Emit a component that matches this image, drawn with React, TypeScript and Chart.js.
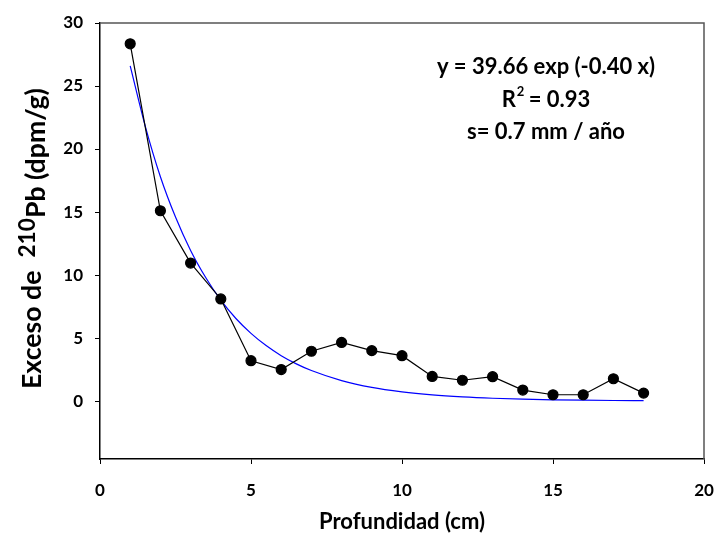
import React, { useEffect, useRef } from "react";
import { Chart, registerables } from "chart.js";

Chart.register(...registerables);

const depths = [1, 2, 3, 4, 5, 6, 7, 8, 9, 10, 11, 12, 13, 14, 15, 16, 17, 18];
const excessPb = [28.35, 15.1, 10.95, 8.1, 3.2, 2.5, 3.95, 4.65, 4.0, 3.6, 1.95, 1.65, 1.93, 0.87, 0.5, 0.5, 1.77, 0.63];

const fitX = [1, 1.5, 2, 2.5, 3, 3.5, 4, 4.5, 5, 5.5, 6, 6.5, 7, 8, 9, 10, 11, 12, 13, 14, 15, 16, 17, 18];
const fitY = [26.6, 21.8, 17.8, 14.6, 11.95, 9.8, 8.0, 6.55, 5.37, 4.4, 3.6, 2.95, 2.42, 1.62, 1.08, 0.73, 0.49, 0.33, 0.22, 0.147, 0.098, 0.066, 0.044, 0.03];

const xTicks = [0, 5, 10, 15, 20];
const yTicks = [0, 5, 10, 15, 20, 25, 30];

const annotationLines = ["y = 39.66 exp (-0.40 x)", "R", " = 0.93", "s= 0.7 mm / año"];
const xTitle = "Profundidad (cm)";
const yTitleParts = ["Exceso de  ", "210", "Pb (dpm/g)"];

const FONT = "Lato, 'Open Sans', sans-serif";

const overlay = {
  id: "overlay",
  afterDraw(chart: any) {
    const ctx = chart.ctx;
    const a = chart.chartArea;
    ctx.save();
    // top and right frame
    ctx.strokeStyle = "#555555";
    ctx.lineWidth = 1.5;
    ctx.beginPath();
    ctx.moveTo(a.left, a.top);
    ctx.lineTo(a.right, a.top);
    ctx.lineTo(a.right, a.bottom);
    ctx.stroke();

    // annotation
    ctx.fillStyle = "#000";
    ctx.textAlign = "center";
    ctx.textBaseline = "middle";
    const AF = 22;
    ctx.font = `bold ${AF}px ${FONT}`;
    const cx = 546;
    ctx.fillText(annotationLines[0], cx, 67);
    const r = annotationLines[1];
    const rest = annotationLines[2];
    const wR = ctx.measureText(r).width;
    const wRest = ctx.measureText(rest).width;
    ctx.font = `bold 13px ${FONT}`;
    const w2 = ctx.measureText("2").width;
    const total = wR + w2 + wRest;
    const x0 = cx - total / 2;
    ctx.textAlign = "left";
    ctx.font = `bold ${AF}px ${FONT}`;
    ctx.fillText(r, x0, 100);
    ctx.font = `bold 13px ${FONT}`;
    ctx.fillText("2", x0 + wR + 1, 92);
    ctx.font = `bold ${AF}px ${FONT}`;
    ctx.fillText(rest, x0 + wR + w2, 100);
    ctx.textAlign = "center";
    ctx.fillText(annotationLines[3], cx, 132);

    // x title
    ctx.font = `bold 22px ${FONT}`;
    ctx.fillText(xTitle, 402, 522);

    // y title (rotated)
    const start = 389;
    const end = 88;
    const supScale = 0.85;
    const measure = (fs: number) => {
      ctx.font = `bold ${fs}px ${FONT}`;
      const w0 = ctx.measureText(yTitleParts[0]).width;
      const w2b = ctx.measureText(yTitleParts[2]).width;
      ctx.font = `bold ${fs * supScale}px ${FONT}`;
      const w1 = ctx.measureText(yTitleParts[1]).width;
      return [w0, w1, w2b];
    };
    let fs = 24;
    let ws = measure(fs);
    fs = (fs * (start - end)) / (ws[0] + ws[1] + ws[2]);
    ws = measure(fs);
    ctx.textAlign = "left";
    ctx.textBaseline = "alphabetic";
    ctx.translate(41, 0);
    ctx.rotate(-Math.PI / 2);
    const s = -start;
    ctx.font = `bold ${fs}px ${FONT}`;
    ctx.fillText(yTitleParts[0], s, 0);
    ctx.font = `bold ${fs * supScale}px ${FONT}`;
    ctx.fillText(yTitleParts[1], s + ws[0], -6);
    ctx.font = `bold ${fs}px ${FONT}`;
    ctx.fillText(yTitleParts[2], s + ws[0] + ws[1], 4);
    ctx.restore();
  },
};

export default function App() {
  const ref = useRef<HTMLCanvasElement | null>(null);
  useEffect(() => {
    document.body.style.margin = "0";
    const canvas = ref.current!;
    const chart = new Chart(canvas, {
      type: "scatter",
      data: {
        datasets: [
          {
            label: "fit",
            data: fitX.map((x, i) => ({ x, y: fitY[i] })),
            showLine: true,
            borderColor: "#0000ff",
            borderWidth: 1.2,
            pointRadius: 0,
            cubicInterpolationMode: "monotone",
            order: 2,
          },
          {
            label: "data",
            data: depths.map((x, i) => ({ x, y: excessPb[i] })),
            showLine: true,
            borderColor: "#000",
            borderWidth: 1.2,
            backgroundColor: "#000",
            pointBackgroundColor: "#000",
            pointBorderColor: "#000",
            pointRadius: 5,
            order: 1,
          },
        ],
      },
      options: {
        animation: false,
        responsive: false,
        layout: { padding: { top: 23, right: 14, left: 0, bottom: 0 } },
        plugins: { legend: { display: false }, tooltip: { enabled: false } },
        scales: {
          x: {
            type: "linear",
            min: 0,
            max: 20,
            afterBuildTicks: (axis: any) => {
              axis.ticks = xTicks.map((v) => ({ value: v }));
            },
            afterFit: (axis: any) => {
              axis.height = 82;
              axis.paddingLeft = 0;
              axis.paddingRight = 0;
            },
            grid: { display: true, drawOnChartArea: false, tickLength: 5, color: "#000", lineWidth: 1 },
            border: { color: "#000", width: 1.5 },
            ticks: { color: "#000", font: { family: FONT, size: 17, weight: "bold" }, padding: 16, maxRotation: 0 },
          },
          y: {
            type: "linear",
            min: -4.6,
            max: 30,
            afterBuildTicks: (axis: any) => {
              axis.ticks = yTicks.map((v) => ({ value: v }));
            },
            afterFit: (axis: any) => {
              axis.width = 100;
              axis.paddingTop = 0;
              axis.paddingBottom = 0;
            },
            grid: { display: true, drawOnChartArea: false, tickLength: 5, color: "#000", lineWidth: 1 },
            border: { color: "#000", width: 1.5 },
            ticks: { color: "#000", font: { family: FONT, size: 17, weight: "bold" }, padding: 12 },
          },
        },
      },
      plugins: [overlay],
    });
    return () => chart.destroy();
  }, []);
  return (
    <div style={{ width: 718, height: 541 }}>
      <canvas ref={ref} width={718} height={541} style={{ display: "block" }} />
    </div>
  );
}
